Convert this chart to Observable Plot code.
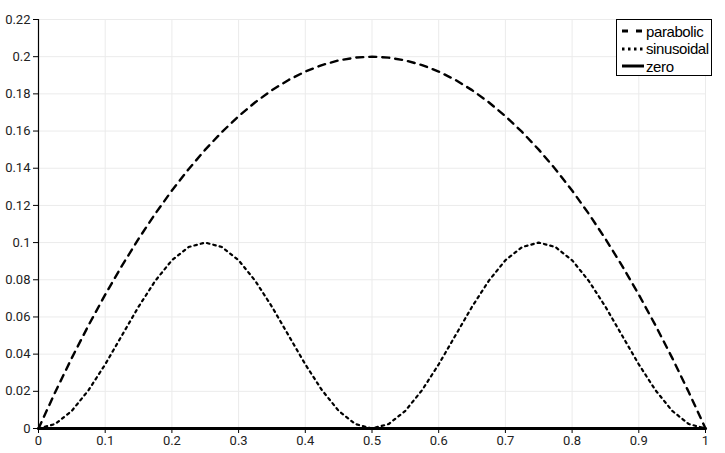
<!DOCTYPE html>
<html>
<head>
<meta charset="utf-8">
<script src="https://cdn.jsdelivr.net/npm/d3@7"></script>
<script src="https://cdn.jsdelivr.net/npm/@observablehq/plot@0.6"></script>
<style>
  html, body { margin: 0; padding: 0; background: #fff; }
  #wrap { position: relative; width: 725px; height: 453px; }
  #legend {
    position: absolute; left: 616px; top: 19px; width: 96px; height: 57px;
    border: 1px solid #000; background: #fff; box-sizing: border-box;
    font-family: "Liberation Sans", sans-serif; font-size: 15px; letter-spacing: -0.4px; color: #000;
  }
  .row { position: absolute; left: 4px; height: 16px; display: flex; align-items: center; white-space: nowrap; }
  .row svg { margin-right: 1px; }
</style>
</head>
<body>
<div id="wrap"><div id="legend"></div></div>
<script>
// x samples
const xs = [0,0.025,0.05,0.075,0.1,0.125,0.15,0.175,0.2,0.225,0.25,0.275,0.3,0.325,0.35,0.375,0.4,0.425,0.45,0.475,0.5,
            0.525,0.55,0.575,0.6,0.625,0.65,0.675,0.7,0.725,0.75,0.775,0.8,0.825,0.85,0.875,0.9,0.925,0.95,0.975,1];
// parabolic series
const parabolic = [0,0.0195,0.038,0.0555,0.072,0.0875,0.102,0.1155,0.128,0.1395,0.15,0.1595,0.168,0.1755,0.182,0.1875,0.192,0.1955,0.198,0.1995,0.2,
                   0.1995,0.198,0.1955,0.192,0.1875,0.182,0.1755,0.168,0.1595,0.15,0.1395,0.128,0.1155,0.102,0.0875,0.072,0.0555,0.038,0.0195,0];
// sinusoidal series
const sinusoidal = [0,0.0024,0.0095,0.0206,0.0345,0.05,0.0655,0.0794,0.0905,0.0976,0.1,0.0976,0.0905,0.0794,0.0655,0.05,0.0345,0.0206,0.0095,0.0024,0,
                    0.0024,0.0095,0.0206,0.0345,0.05,0.0655,0.0794,0.0905,0.0976,0.1,0.0976,0.0905,0.0794,0.0655,0.05,0.0345,0.0206,0.0095,0.0024,0];
// zero series
const zero = [0,0];
const zeroX = [0,1];
// ticks
const xTicks = [0,0.1,0.2,0.3,0.4,0.5,0.6,0.7,0.8,0.9,1];
const yTicks = [0,0.02,0.04,0.06,0.08,0.1,0.12,0.14,0.16,0.18,0.2,0.22];
const seriesNames = ["parabolic","sinusoidal","zero"];

const fmt = d => String(+d.toFixed(2));
const para = xs.map((x,i) => ({x, y: parabolic[i]}));
const sinu = xs.map((x,i) => ({x, y: sinusoidal[i]}));
const zer = zeroX.map((x,i) => ({x, y: zero[i]}));

const chart = Plot.plot({
  width: 725, height: 453,
  marginLeft: 38, marginRight: 20, marginTop: 19, marginBottom: 25,
  style: { fontFamily: "Roboto, sans-serif", fontSize: "13px", color: "#222", background: "#fff" },
  x: { domain: [0,1] },
  y: { domain: [0,0.22] },
  marks: [
    Plot.gridX(xTicks, { stroke: "#ebebeb", strokeOpacity: 1, strokeWidth: 1 }),
    Plot.gridY(yTicks, { stroke: "#ebebeb", strokeOpacity: 1, strokeWidth: 1 }),
    Plot.axisX(xTicks, { tickSize: 5, tickPadding: 2, tickFormat: fmt, label: null, stroke: "#000", fill: "#222" }),
    Plot.axisY(yTicks, { tickSize: 5, tickPadding: 3, tickFormat: fmt, label: null, stroke: "#000", fill: "#222" }),
    Plot.ruleX([0], { stroke: "#000", strokeWidth: 1.2 }),
    Plot.line(para, { x: "x", y: "y", stroke: "#000", strokeWidth: 2.4, strokeDasharray: "7,6", curve: "linear" }),
    Plot.line(sinu, { x: "x", y: "y", stroke: "#000", strokeWidth: 2.2, strokeDasharray: "2.5,4", curve: "linear" }),
    Plot.line(zer, { x: "x", y: "y", stroke: "#000", strokeWidth: 3 })
  ]
});
document.getElementById("wrap").prepend(chart);

// legend
const dashes = ["6,8", "2.5,3.5", null];
const lg = document.getElementById("legend");
seriesNames.forEach((name, i) => {
  const row = document.createElement("div");
  row.className = "row";
  row.style.top = (3 + i * 17.5) + "px";
  const s = d3.create("svg").attr("width", 24).attr("height", 16);
  s.append("line").attr("x1", 1).attr("x2", 23).attr("y1", 8).attr("y2", 8)
    .attr("stroke", "#000").attr("stroke-width", i === 2 ? 3 : 2.8)
    .attr("stroke-dasharray", dashes[i]);
  row.appendChild(s.node());
  const t = document.createElement("span");
  t.textContent = name;
  row.appendChild(t);
  lg.appendChild(row);
});
</script>
</body>
</html>
